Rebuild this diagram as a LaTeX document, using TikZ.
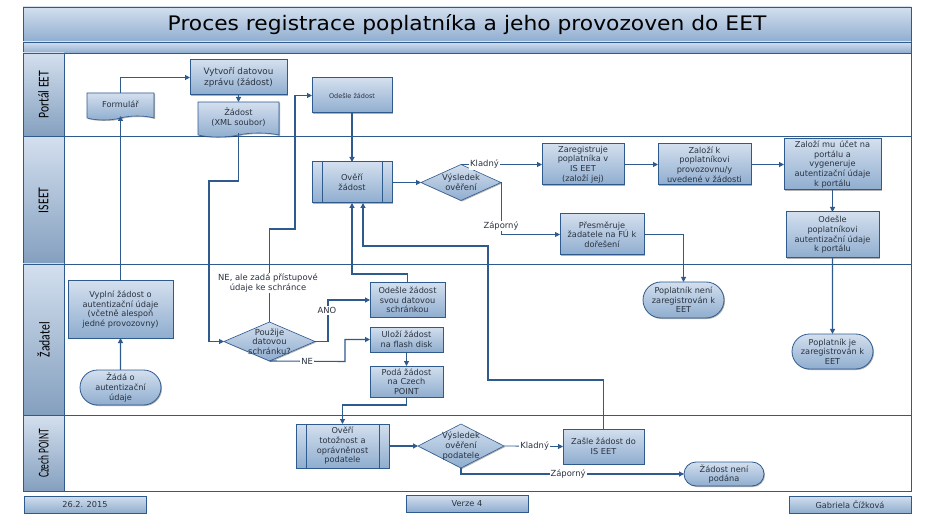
\documentclass[tikz,border=0pt]{standalone}
\usepackage{fontspec}
\usepackage{tikz}
\usepackage{xcolor}
\usetikzlibrary{arrows.meta,shadows,shapes.geometric,shapes.misc,shapes.symbols}
\setmainfont{DejaVu Sans}
\newfontfamily\lanefont{Carlito}
\definecolor{flowline}{HTML}{2F5A8E}
\definecolor{flowtop}{HTML}{D3DFEE}
\definecolor{flowbottom}{HTML}{8FADCF}
\definecolor{flowtext}{HTML}{2A3340}
\tikzset{
    flow-base/.style = {draw=flowline, top color=flowtop, bottom color=flowbottom, text=flowtext, inner sep=0pt, outer sep=0pt, align=center, font=\fontsize{8.2}{9.7}\selectfont, drop shadow={shadow xshift=1pt, shadow yshift=-1pt, fill=black, opacity=.3}},
    flow-box/.style = {flow-base, rectangle, line width=1pt},
    flow-sub/.style = {flow-box, path picture={
        \draw[flowline, line width=1pt] ([xshift=10pt]path picture bounding box.north west) -- ([xshift=10pt]path picture bounding box.south west);
        \draw[flowline, line width=1pt] ([xshift=-10pt]path picture bounding box.north east) -- ([xshift=-10pt]path picture bounding box.south east);}},
    flow-end/.style = {flow-base, rounded rectangle, line width=.8pt},
    flow-dec/.style = {flow-base, diamond, line width=.6pt},
    flow-doc/.style = {flow-base, tape, tape bend top=none, tape bend bottom=in and out, tape bend height=4pt, line width=.6pt},
    flow-arrow/.style = {draw=flowline, line width=1.1pt, -{Triangle[length=5pt,width=5pt]}},
    flow-label/.style = {fill=white, text=flowtext, inner sep=1pt, align=center, font=\fontsize{8.4}{9.7}\selectfont},
    lane-head/.style = {draw=flowline, rotate=90, top color=flowtop, bottom color=flowbottom!92!black, text=black, line width=.8pt, inner sep=0pt, minimum height=41pt, font=\lanefont\fontsize{15}{15}\selectfont},
    foot-box/.style = {flow-box, minimum width=122pt, minimum height=17pt, line width=1pt},
}
\begin{document}
\begin{tikzpicture}[x=1pt,y=-1pt]
\useasboundingbox (0,0) rectangle (936,526);

% title and lanes
\node [draw=flowline, top color=flowtop, bottom color=flowbottom, line width=.8pt, minimum width=888pt, minimum height=35pt, inner sep=0pt, font=\fontsize{20}{22}\selectfont] (title) at (467,24.5) {\scalebox{1.09}[1]{Proces registrace poplatníka a jeho provozoven do EET}};
\node [draw=flowline, top color=flowtop, bottom color=flowbottom, line width=.8pt, minimum width=888pt, minimum height=11pt, inner sep=0pt] (subtitle) at (467,47.5) {};
\draw [flowline, line width=.8pt] (23,53) rectangle (911,136.7);
\draw [flowline, line width=.8pt] (23,136.7) rectangle (911,264);
\draw [flowline, line width=.8pt] (23,264) rectangle (911,415.7);
\draw [flowline, line width=.8pt] (23,415.7) rectangle (911,491);
\node [lane-head, minimum width=83.7pt] (lane-portal) at (43.5,94.8) {\scalebox{.78}[1]{Portál EET}};
\node [lane-head, minimum width=127.3pt] (lane-is) at (43.5,200.3) {\scalebox{.78}[1]{ISEET}};
\node [lane-head, minimum width=151.7pt] (lane-zadatel) at (43.5,339.8) {\scalebox{.78}[1]{Žadatel}};
\node [lane-head, minimum width=75.3pt] (lane-czech) at (43.5,453.3) {\scalebox{.63}[1]{Czech POINT}};

% Portal EET
\node [flow-doc, minimum width=67pt, minimum height=27pt] (formular) at (120.5,104.5) {Formulář};
\node [flow-box, minimum width=97pt, minimum height=35pt, font=\fontsize{8.8}{11}\selectfont] (vytvori) at (238.5,77.5) {Vytvoří datovou\\zprávu (žádost)};
\node [flow-doc, minimum width=81pt, minimum height=35pt] (zadost) at (238.5,117.5) {Žádost\\(XML soubor)};
\node [flow-box, minimum width=80pt, minimum height=35pt, font=\fontsize{6.5}{8}\selectfont] (odesle) at (352,95.5) {Odešle žádost};

% IS EET
\node [flow-sub, minimum width=80pt, minimum height=41pt] (overi) at (352,182.5) {Ověří\\žádost};
\node [flow-dec, minimum width=80pt, minimum height=36pt, label={[flow-label, fill=none]center:{Výsledek\\ověření}}] (vysledek) at (461,182.5) {};
\node [flow-box, minimum width=82pt, minimum height=41pt] (zaregistruje) at (583,164.5) {Zaregistruje\\poplatníka v\\IS EET\\(založí jej)};
\node [flow-box, minimum width=93pt, minimum height=41pt] (zalozi) at (704.5,164.5) {Založí k\\poplatníkovi\\provozovnu/y\\uvedené v žádosti};
\node [flow-box, minimum width=97pt, minimum height=51pt] (ucet) at (832.5,164.5) {Založí mu\, účet na\\portálu a\\vygeneruje\\autentizační údaje\\k portálu};
\node [flow-box, minimum width=93pt, minimum height=46pt] (posle) at (832.5,235) {Odešle\\poplatníkovi\\autentizační údaje\\k portálu};
\node [flow-box, minimum width=84pt, minimum height=41pt] (presmeruje) at (602,234.5) {Přesměruje\\žadatele na FÚ k\\dořešení};

% Zadatel
\node [flow-box, minimum width=105pt, minimum height=57pt] (vyplni) at (120.5,309.5) {Vyplní žádost o\\autentizační údaje\\(včetně alespoň\\jedné provozovny)};
\node [flow-end, minimum width=81pt, minimum height=35pt] (zada) at (120.5,387.5) {Žádá o\\autentizační\\údaje};
\node [flow-dec, minimum width=91pt, minimum height=39pt, label={[flow-label, fill=none]center:{Použije\\datovou\\schránku?}}] (pouzije) at (269.5,341.5) {};
\node [flow-box, minimum width=75pt, minimum height=34pt] (datovka) at (407.5,300) {Odešle žádost\\svou datovou\\schránkou};
\node [flow-box, minimum width=73pt, minimum height=25pt] (flash) at (406.5,339.5) {Uloží žádost\\na flash disk};
\node [flow-box, minimum width=73pt, minimum height=31pt] (poda) at (406.5,381.5) {Podá žádost\\na Czech\\POINT};
\node [flow-end, minimum width=81pt, minimum height=36pt] (neni) at (683.5,300) {Poplatník není\\zaregistrován k\\EET};
\node [flow-end, minimum width=81pt, minimum height=35pt] (je) at (832.5,351.5) {Poplatník je\\zaregistrován k\\EET};

% Czech POINT
\node [flow-sub, minimum width=93pt, minimum height=44pt] (totoznost) at (342.5,446) {Ověří\\totožnost a\\oprávněnost\\podatele};
\node [flow-dec, minimum width=86pt, minimum height=44pt, label={[flow-label, fill=none]center:{Výsledek\\ověření\\podatele}}] (vysledek-cp) at (461,446) {};
\node [flow-box, minimum width=81pt, minimum height=35pt] (zasle) at (603.5,446.5) {Zašle žádost do\\IS EET};
\node [flow-end, minimum width=80pt, minimum height=24pt] (nepodana) at (724,474) {Žádost není\\podána};

% footer
\node [foot-box] (datum) at (85,504.5) {26.2. 2015};
\node [foot-box] (verze) at (467,503.5) {Verze 4};
\node [foot-box] (autor) at (850,504.5) {Gabriela Čížková};

% bends
\coordinate (bend-zadost) at (209,181);
\coordinate (bend-nastep) at (295,229);
\coordinate (bend-ano) at (328,300);
\coordinate (bend-ne) at (345,361.5);
\coordinate (bend-datovka) at (352,274);
\coordinate (bend-poda) at (343,405);
\coordinate (bend-zasle) at (488,380);
\coordinate (bend-overi) at (363,246);

% connectors
\draw [flow-arrow] (zada) -- (vyplni);
\draw [flow-arrow] (vyplni.north -| formular) -- (formular.south);
\draw [flow-arrow] (formular.north) |- (vytvori.west);
\draw [flow-arrow] (vytvori) -- (zadost);
\draw [flow-arrow] (zadost.south) |- (bend-zadost) |- (pouzije.west);
\draw [flow-arrow] (pouzije.north) |- (bend-nastep) |- (odesle.west);
\draw [flow-arrow] (odesle) -- (overi);
\draw [flow-arrow] (overi) -- (vysledek);
\draw [flow-arrow] (vysledek.north) -- node [flow-label, pos=.29] (lab-kladny) {Kladný} (zaregistruje.west);
\draw [flow-arrow] (zaregistruje) -- (zalozi);
\draw [flow-arrow] (zalozi) -- (ucet);
\draw [flow-arrow] (ucet) -- (posle);
\draw [flow-arrow] (posle) -- (je);
\draw [flow-arrow, line width=.8pt] (vysledek.east) |- node [flow-label, pos=.42] (lab-zaporny) {Záporný} (presmeruje.west);
\draw [flow-arrow] (presmeruje.east) -| (neni.north);
\draw [flow-arrow] (pouzije.east) -| (bend-ano) |- (datovka.west);
\draw [flow-arrow] (pouzije.south) -- node [flow-label, pos=.5] (lab-ne) {NE} (bend-ne) |- (flash.west);
\draw [flow-arrow] (datovka.north) |- (bend-datovka) -- (overi.south);
\draw [flow-arrow] (flash) -- (poda);
\draw [flow-arrow] (poda.south) |- (bend-poda) -| (totoznost.north);
\draw [flow-arrow] (totoznost) -- (vysledek-cp);
\draw [flow-arrow, line width=.8pt] (vysledek-cp.east) -- node [flow-label, pos=.52] (lab-kladny-cp) {Kladný} (zasle.west);
\draw [flow-arrow] (vysledek-cp.south) |- node [flow-label, pos=.74] (lab-zaporny-cp) {Záporný} (nepodana.west);
\draw [flow-arrow] (zasle.north) |- (bend-zasle) |- (bend-overi) -- (bend-overi |- overi.south);
\node [flow-label] (lab-ano) at (327,310.5) {ANO};
\node [flow-label] (lab-schranka) at (268,283) {NE, ale zadá přístupové\\údaje ke schránce};
\end{tikzpicture}
\end{document}
